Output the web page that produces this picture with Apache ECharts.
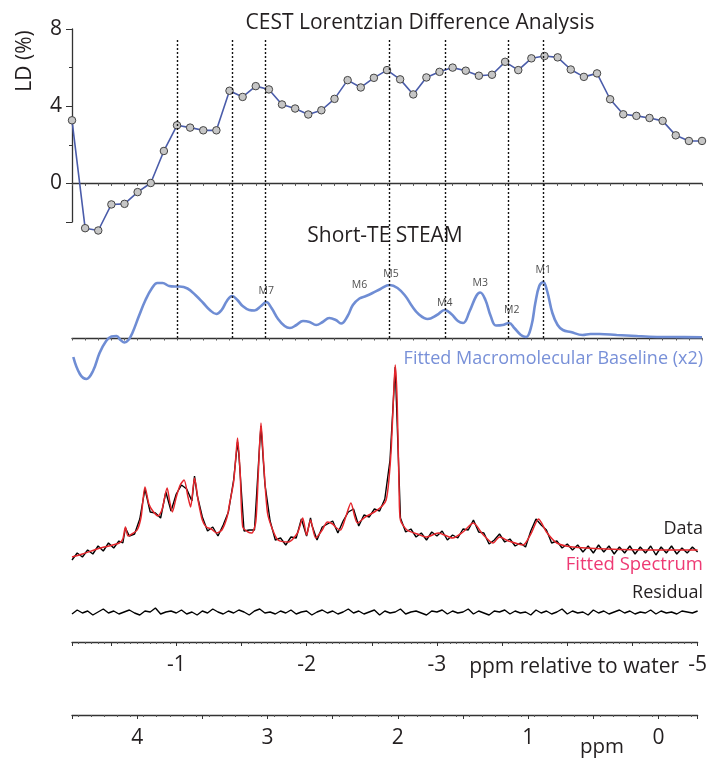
<!DOCTYPE html>
<html>
<head>
<meta charset="utf-8">
<script src="https://cdn.jsdelivr.net/npm/echarts@6.0.0/dist/echarts.min.js"></script>
<style>
  html, body { margin: 0; padding: 0; background: #fff; }
  #chart { width: 710px; height: 760px; }
</style>
</head>
<body>
<div id="chart"></div>
<script>
// CEST LD points, x in ppm relative to water
const ldShift = [-0.2, -0.3, -0.4, -0.5, -0.6, -0.7, -0.8, -0.9, -1.0, -1.1, -1.2, -1.3, -1.4, -1.5, -1.6, -1.7,
  -1.8, -1.9, -2.0, -2.1, -2.2, -2.3, -2.4, -2.5, -2.6, -2.7, -2.8, -2.9, -3.0, -3.1, -3.2, -3.3, -3.4,
  -3.5, -3.6, -3.7, -3.8, -3.9, -4.0, -4.1, -4.2, -4.3, -4.4, -4.5, -4.6, -4.7, -4.8, -4.9, -5.0]
const ldValue = [3.27, -2.32, -2.44, -1.09, -1.06, -0.45, 0.02, 1.68, 3.01, 2.89, 2.75, 2.75, 4.8, 4.48, 5.04, 4.87,
  4.09, 3.88, 3.57, 3.79, 4.38, 5.35, 4.97, 5.47, 5.87, 5.39, 4.61, 5.49, 5.78, 6.0, 5.84, 5.58, 5.63,
  6.3, 5.87, 6.48, 6.6, 6.53, 5.9, 5.52, 5.7, 4.36, 3.58, 3.5, 3.39, 3.24, 2.49, 2.2, 2.2]
const ldTicks = [-2, 0, 4, 8]
const ldMinorTicks = [2, 6]
const ldLabels = [0, 4, 8]

// ppm axis ticks / labels
const ppmTicks = [-0.3, 0, 0.5, 1, 1.5, 2, 2.5, 3, 3.5, 4, 4.5]
const ppmLabels = [0, 1, 2, 3, 4]

// macromolecule peak positions (ppm) marked with dotted lines
const mPeaks = [3.70, 3.28, 3.03, 2.08, 1.66, 1.18, 0.91]
const mLabels = [[3.02, 47, 'M7'], [2.31, 53, 'M6'], [2.07, 64, 'M5'], [1.66, 35, 'M4'], [1.39, 55, 'M3'],
  [1.15, 28, 'M2'], [0.91, 68, 'M1']]

// fitted macromolecular baseline (x2), [ppm, intensity]
const steam = [[4.49, -19], [4.44, -36], [4.39, -41], [4.34, -33], [4.29, -15], [4.24, -3], [4.20, 1.5], [4.16, 2],
  [4.13, -2], [4.10, -4.5], [4.07, -2], [4.04, 5], [3.99, 22], [3.94, 38], [3.89, 50], [3.85, 55], [3.81, 55],
  [3.76, 52], [3.72, 51.5], [3.68, 51.5], [3.62, 49.5], [3.56, 43], [3.50, 35], [3.45, 28], [3.40, 24], [3.36, 28],
  [3.32, 37], [3.28, 42], [3.24, 38], [3.20, 32], [3.15, 28], [3.11, 27.5], [3.06, 32], [3.02, 36], [2.98, 30],
  [2.93, 19], [2.88, 12], [2.84, 10], [2.79, 13], [2.74, 17], [2.69, 16], [2.64, 13], [2.59, 16], [2.54, 20],
  [2.49, 18], [2.45, 14.5], [2.40, 22], [2.36, 33], [2.31, 39.5], [2.26, 42], [2.21, 45], [2.15, 49], [2.08, 53],
  [2.02, 50], [1.96, 42], [1.91, 32], [1.86, 24], [1.79, 19], [1.72, 23], [1.66, 28], [1.61, 24], [1.56, 17],
  [1.52, 15], [1.47, 27], [1.42, 42], [1.39, 45.5], [1.35, 38], [1.31, 22], [1.27, 12.5], [1.22, 13], [1.17, 15],
  [1.13, 10], [1.08, 3], [1.04, 1], [1.00, 12], [0.97, 35], [0.94, 52], [0.91, 56], [0.88, 47], [0.84, 25],
  [0.80, 13], [0.76, 8], [0.70, 6], [0.61, 3], [0.55, 4], [0.48, 4], [0.35, 3], [0.20, 2], [0.10, 1.3],
  [-0.10, 1], [-0.30, 0.7]]

// measured spectrum, [ppm, intensity]
const specData = [[4.50, 82], [4.46, 89], [4.42, 85], [4.38, 92], [4.34, 88], [4.30, 96], [4.26, 91], [4.22, 99],
  [4.18, 94], [4.14, 101], [4.11, 99], [4.09, 114], [4.06, 106], [4.02, 108], [3.98, 123], [3.94, 153], [3.90, 130],
  [3.86, 129], [3.82, 124], [3.78, 150], [3.74, 131], [3.70, 148], [3.66, 157], [3.62, 153], [3.58, 141], [3.56, 166],
  [3.54, 147], [3.50, 125], [3.46, 111], [3.42, 115], [3.38, 106], [3.34, 117], [3.30, 130], [3.26, 162], [3.23, 200],
  [3.22, 188], [3.18, 111], [3.14, 112], [3.10, 112], [3.06, 198], [3.05, 216], [3.02, 158], [2.98, 121], [2.94, 102],
  [2.90, 104], [2.86, 97], [2.82, 105], [2.78, 104], [2.74, 123], [2.70, 106], [2.67, 124], [2.66, 117], [2.62, 102],
  [2.58, 115], [2.54, 118], [2.50, 121], [2.46, 109], [2.42, 121], [2.38, 130], [2.34, 133], [2.30, 116], [2.26, 127],
  [2.22, 125], [2.18, 133], [2.14, 131], [2.10, 143], [2.06, 182], [2.02, 275], [1.98, 124], [1.94, 110], [1.90, 113],
  [1.86, 105], [1.82, 109], [1.78, 102], [1.74, 110], [1.70, 106], [1.66, 111], [1.62, 102], [1.58, 107], [1.54, 104],
  [1.50, 113], [1.46, 112], [1.42, 122], [1.38, 110], [1.34, 109], [1.30, 98], [1.26, 102], [1.22, 108], [1.18, 100],
  [1.14, 103], [1.10, 96], [1.06, 99], [1.02, 95], [0.98, 111], [0.94, 123], [0.90, 117], [0.86, 112], [0.82, 99],
  [0.78, 101], [0.74, 94], [0.70, 98], [0.66, 92], [0.62, 97], [0.58, 90], [0.54, 96], [0.50, 89], [0.46, 97],
  [0.42, 90], [0.38, 96], [0.34, 88], [0.30, 95], [0.26, 89], [0.22, 96], [0.18, 88], [0.14, 95], [0.10, 89],
  [0.06, 96], [0.02, 87], [-0.02, 95], [-0.06, 89], [-0.10, 96], [-0.14, 88], [-0.18, 94], [-0.22, 89], [-0.26, 95],
  [-0.30, 90]]

// fitted spectrum, [ppm, intensity]
const specFit = [[4.50, 85], [4.42, 88], [4.29, 93.7], [4.14, 98.7], [4.11, 103], [4.09, 115], [4.07, 106], [4.04, 108],
  [4.00, 112], [3.97, 125], [3.94, 155], [3.91, 138], [3.88, 131], [3.84, 126], [3.81, 132], [3.77, 154], [3.75, 140],
  [3.73, 130], [3.70, 145], [3.67, 157], [3.64, 162], [3.61, 145], [3.59, 135], [3.57, 155], [3.56, 164], [3.53, 140],
  [3.50, 122], [3.47, 115], [3.43, 113], [3.39, 109], [3.35, 112], [3.31, 125], [3.29, 139], [3.26, 160], [3.24, 190],
  [3.23, 204], [3.21, 170], [3.19, 115], [3.15, 110], [3.12, 109], [3.09, 120], [3.07, 170], [3.05, 219], [3.03, 180],
  [3.00, 129], [2.96, 112], [2.92, 102], [2.84, 100], [2.77, 109], [2.73, 124], [2.70, 107], [2.67, 122], [2.63, 104],
  [2.58, 112], [2.54, 120], [2.50, 118], [2.47, 114], [2.44, 112], [2.40, 125], [2.36, 139], [2.33, 125], [2.31, 119],
  [2.25, 125], [2.18, 130], [2.12, 136], [2.09, 142], [2.07, 160], [2.05, 195], [2.03, 255], [2.02, 277], [2.005, 240],
  [1.99, 150], [1.98, 122], [1.93, 112], [1.85, 108], [1.78, 105], [1.69, 109], [1.58, 104], [1.50, 110], [1.42, 119],
  [1.35, 108], [1.27, 99], [1.22, 105], [1.15, 101], [1.04, 97], [0.98, 108], [0.92, 123], [0.86, 110], [0.78, 99],
  [0.66, 95], [0.40, 93], [0.00, 92], [-0.30, 92]]

// residual, sampled every 0.04 ppm from 4.50 down to -0.30
const residual = [28, 32, 29, 31, 27, 30, 33, 29, 31, 28,
  30, 32, 29, 27, 31, 30, 34, 28, 30, 31,
  29, 32, 28, 30, 27, 31, 29, 33, 30, 28,
  31, 29, 32, 30, 27, 31, 33, 29, 30, 28,
  31, 29, 32, 28, 30, 31, 27, 30, 32, 29,
  31, 28, 30, 33, 29, 31, 28, 30, 32, 27,
  31, 29, 30, 33, 28, 30, 31, 29, 27, 31,
  30, 32, 28, 31, 29, 30, 33, 28, 31, 29,
  27, 31, 30, 32, 28, 31, 29, 30, 27, 32,
  29, 31, 28, 30, 33, 28, 31, 29, 30, 27,
  32, 29, 31, 28, 30, 32, 29, 31, 28, 30,
  29, 32, 28, 31, 29, 30, 28, 31, 30, 29,
  31]

const FONT = "'Open Sans', 'DejaVu Sans', sans-serif"
const INK = '#231f20'
const AXIS = { color: '#333', width: 1.3 }

const chart = echarts.init(document.getElementById('chart'))

const isInt = (v) => Math.abs(v - Math.round(v)) < 1e-6

// free text helper
const txt = (text, x, y, align, color, size, rotation) => ({
  type: 'text',
  x, y,
  rotation: rotation || 0,
  style: { text, fill: color, font: `${size}px ${FONT}`, align, verticalAlign: 'middle' },
})

const ppmAxis = (gridIndex, extra) => Object.assign({
  gridIndex,
  type: 'value',
  min: -0.3,
  max: 4.5,
  inverse: true,
  splitLine: { show: false },
}, extra)

const option = {
  animation: false,
  backgroundColor: '#fff',
  grid: [
    { left: 72, right: 8, top: 29, height: 193 }, // LD
    { left: 72, right: 8, top: 238, height: 150 }, // STEAM baseline
    { left: 72, right: 8, top: 352, height: 290 }, // spectrum + residual
    { left: 72, right: 8, top: 40, height: 298 }, // dotted peak markers
  ],
  xAxis: [
    {
      gridIndex: 0,
      type: 'value',
      min: -5,
      max: -0.2,
      inverse: true,
      interval: 0.1,
      axisLine: { onZero: true, onZeroAxisIndex: 0, lineStyle: AXIS },
      axisTick: { show: true, length: 2.5, lineStyle: { color: '#555' } },
      axisLabel: { show: false },
      splitLine: { show: false },
    },
    ppmAxis(1, {
      interval: 0.1,
      axisLine: { onZero: true, lineStyle: AXIS },
      axisTick: { show: true, length: 2.5, lineStyle: { color: '#555' } },
      axisLabel: { show: false },
    }),
    {
      gridIndex: 2,
      type: 'value',
      position: 'bottom',
      min: -5,
      max: -0.2,
      inverse: true,
      interval: 0.5,
      axisLine: { onZero: false, lineStyle: AXIS },
      axisTick: { show: true, length: 4, lineStyle: { color: '#333' } },
      minorTick: { show: true, splitNumber: 10, length: 2, lineStyle: { color: '#555' } },
      axisLabel: {
        margin: 13,
        color: INK,
        fontFamily: FONT,
        fontSize: 21,
        formatter: (v) => (isInt(v) && Math.round(v) !== -4 && Math.round(v) !== 0 ? String(Math.round(v)) : ''),
      },
      splitLine: { show: false },
    },
    ppmAxis(2, { show: false, position: 'top' }),
    ppmAxis(2, {
      position: 'bottom',
      offset: 73,
      interval: 0.1,
      axisLine: { onZero: false, lineStyle: AXIS },
      axisTick: { show: true, length: 4, customValues: ppmTicks, lineStyle: { color: '#333' } },
      minorTick: { show: true, splitNumber: 2, length: 2, lineStyle: { color: '#555' } },
      axisLabel: {
        margin: 13,
        color: INK,
        fontFamily: FONT,
        fontSize: 21,
        customValues: ppmLabels,
        formatter: (v) => String(Math.round(v)),
      },
    }),
    ppmAxis(3, { show: false }),
  ],
  yAxis: [
    {
      gridIndex: 0,
      type: 'value',
      min: -2,
      max: 8,
      interval: 2,
      axisLine: { show: true, onZero: false, lineStyle: AXIS },
      axisTick: { show: true, length: 6, customValues: ldTicks, lineStyle: { color: '#333' } },
      axisLabel: {
        margin: 10,
        color: INK,
        fontFamily: FONT,
        fontSize: 21,
        customValues: ldLabels,
        formatter: (v) => String(v),
      },
      splitLine: { show: false },
    },
    {
      // shorter ticks at 2 and 6
      gridIndex: 0,
      type: 'value',
      position: 'left',
      min: -2,
      max: 8,
      interval: 2,
      axisLine: { show: false, onZero: false },
      axisTick: { show: true, length: 3, customValues: ldMinorTicks, lineStyle: { color: '#333' } },
      axisLabel: { show: false },
      splitLine: { show: false },
    },
    { gridIndex: 1, type: 'value', min: -50, max: 100, show: false },
    { gridIndex: 2, type: 'value', min: 0, max: 290, show: false },
    { gridIndex: 3, type: 'value', min: 0, max: 1, show: false },
  ],
  series: [
    {
      name: 'LD',
      type: 'line',
      xAxisIndex: 0,
      yAxisIndex: 0,
      data: ldShift.map((x, i) => [x, ldValue[i]]),
      clip: false,
      symbol: 'circle',
      symbolSize: 7.5,
      itemStyle: { color: '#c6c6c6', borderColor: '#444', borderWidth: 1 },
      lineStyle: { color: '#4a5caa', width: 1.6 },
      z: 4,
    },
    {
      name: 'Macromolecular baseline',
      type: 'line',
      xAxisIndex: 1,
      yAxisIndex: 2,
      data: steam,
      smooth: 0.4,
      clip: false,
      showSymbol: false,
      lineStyle: { color: '#6f8dd4', width: 2.6 },
    },
    {
      name: 'M labels',
      type: 'scatter',
      xAxisIndex: 1,
      yAxisIndex: 2,
      data: mLabels,
      symbolSize: 0,
      label: {
        show: true,
        position: 'inside',
        formatter: (p) => p.value[2],
        color: '#222',
        fontFamily: FONT,
        fontSize: 10.5,
      },
      z: 5,
    },
    {
      name: 'Data',
      type: 'line',
      xAxisIndex: 3,
      yAxisIndex: 3,
      data: specData,
      showSymbol: false,
      lineStyle: { color: '#000', width: 1.4 },
    },
    {
      name: 'Fitted Spectrum',
      type: 'line',
      xAxisIndex: 3,
      yAxisIndex: 3,
      data: specFit,
      smooth: 0.25,
      showSymbol: false,
      lineStyle: { color: '#e5262c', width: 1.5 },
      z: 3,
    },
    {
      name: 'Residual',
      type: 'line',
      xAxisIndex: 3,
      yAxisIndex: 3,
      data: residual.map((v, i) => [4.5 - 0.04 * i, v]),
      showSymbol: false,
      lineStyle: { color: '#000', width: 1.4 },
    },
    {
      name: 'peaks',
      type: 'line',
      xAxisIndex: 5,
      yAxisIndex: 4,
      data: [],
      markLine: {
        silent: true,
        symbol: ['none', 'none'],
        label: { show: false },
        lineStyle: { color: '#111', type: [2, 2], width: 1.4 },
        data: mPeaks.map((v) => ({ xAxis: v })),
      },
    },
  ],
  graphic: [
    txt('CEST Lorentzian Difference Analysis', 420, 23, 'center', INK, 21),
    txt('LD (%)', 25, 61, 'center', INK, 21, Math.PI / 2),
    txt('Short-TE STEAM', 385, 236, 'center', INK, 21),
    txt('Fitted Macromolecular Baseline (x2)', 703, 359, 'right', '#7890d8', 18),
    txt('Data', 703, 529, 'right', INK, 18),
    txt('Fitted Spectrum', 703, 565, 'right', '#ee3a74', 18.5),
    txt('Residual', 703, 593, 'right', INK, 18),
    txt('ppm relative to water', 679, 667, 'right', INK, 21),
    txt('ppm', 602, 747, 'center', INK, 20.5),
  ],
}

chart.setOption(option)
</script>
</body>
</html>
